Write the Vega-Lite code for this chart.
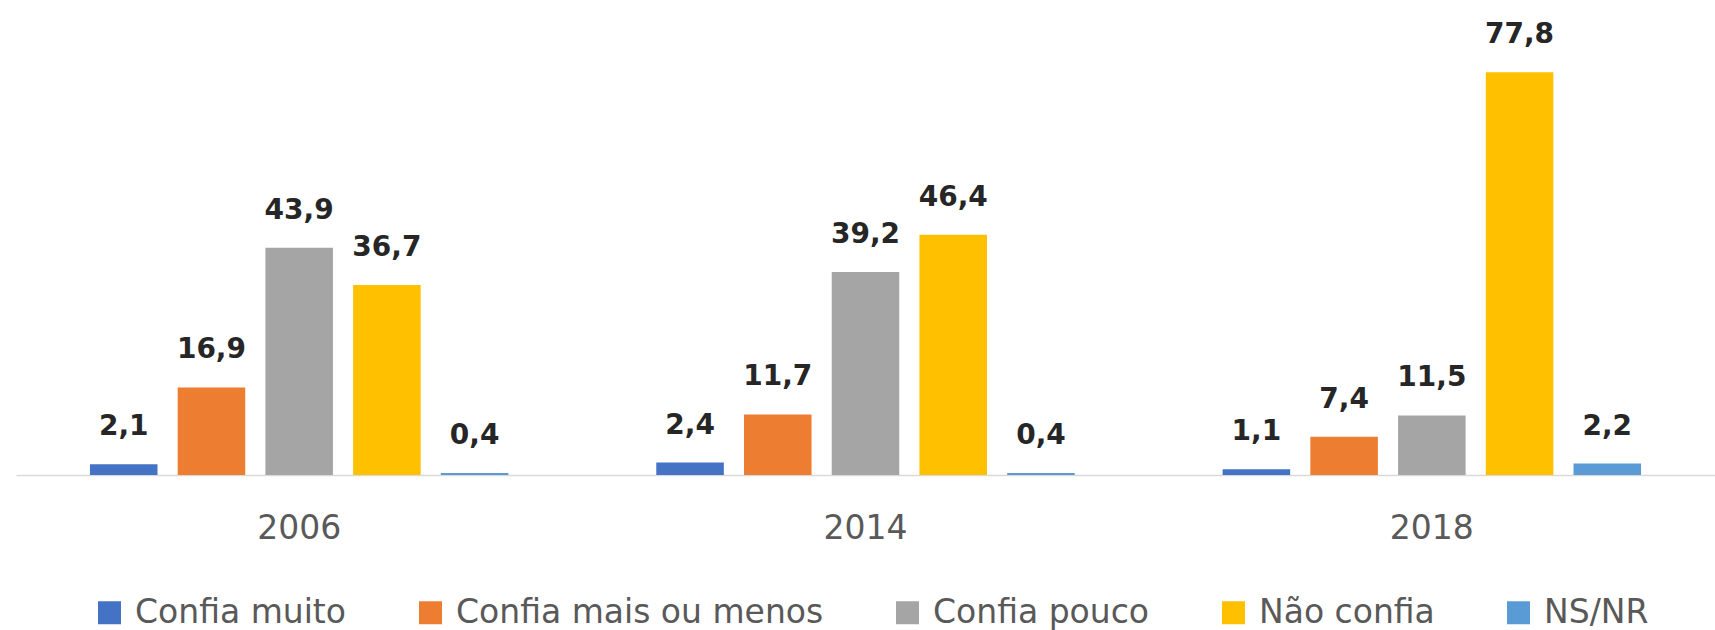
{
  "$schema": "https://vega.github.io/schema/vega-lite/v6.json",
  "width": 1699,
  "height": 466,
  "padding": {"left": 16, "top": 9, "right": 0, "bottom": 0},
  "config": {"view": {"stroke": null}, "font": "DejaVu Sans"},
  "data": {
    "values": [
      {"ano": "2006", "cat": "Confia muito", "v": 2.1, "rotulo": "2,1"},
      {"ano": "2006", "cat": "Confia mais ou menos", "v": 16.9, "rotulo": "16,9"},
      {"ano": "2006", "cat": "Confia pouco", "v": 43.9, "rotulo": "43,9"},
      {"ano": "2006", "cat": "Não confia", "v": 36.7, "rotulo": "36,7"},
      {"ano": "2006", "cat": "NS/NR", "v": 0.4, "rotulo": "0,4"},
      {"ano": "2014", "cat": "Confia muito", "v": 2.4, "rotulo": "2,4"},
      {"ano": "2014", "cat": "Confia mais ou menos", "v": 11.7, "rotulo": "11,7"},
      {"ano": "2014", "cat": "Confia pouco", "v": 39.2, "rotulo": "39,2"},
      {"ano": "2014", "cat": "Não confia", "v": 46.4, "rotulo": "46,4"},
      {"ano": "2014", "cat": "NS/NR", "v": 0.4, "rotulo": "0,4"},
      {"ano": "2018", "cat": "Confia muito", "v": 1.1, "rotulo": "1,1"},
      {"ano": "2018", "cat": "Confia mais ou menos", "v": 7.4, "rotulo": "7,4"},
      {"ano": "2018", "cat": "Confia pouco", "v": 11.5, "rotulo": "11,5"},
      {"ano": "2018", "cat": "Não confia", "v": 77.8, "rotulo": "77,8"},
      {"ano": "2018", "cat": "NS/NR", "v": 2.2, "rotulo": "2,2"}
    ]
  },
  "encoding": {
    "x": {
      "field": "ano",
      "type": "nominal",
      "sort": ["2006", "2014", "2018"],
      "scale": {"paddingInner": 0, "paddingOuter": 0},
      "axis": {
        "title": null,
        "labelAngle": 0,
        "ticks": false,
        "tickSize": 0,
        "domainColor": "#d9d9d9",
        "domainWidth": 1.5,
        "labelFont": "DejaVu Sans",
        "labelFontSize": 33,
        "labelColor": "#595959",
        "labelBaseline": "alphabetic",
        "labelPadding": 63
      }
    },
    "xOffset": {
      "field": "cat",
      "type": "nominal",
      "sort": ["Confia muito", "Confia mais ou menos", "Confia pouco", "Não confia", "NS/NR"],
      "scale": {"paddingInner": 0.23, "paddingOuter": 0.843}
    },
    "y": {
      "field": "v",
      "type": "quantitative",
      "scale": {"domain": [0, 90]},
      "axis": null
    }
  },
  "layer": [
    {
      "mark": {"type": "bar"},
      "encoding": {
        "color": {
          "field": "cat",
          "type": "nominal",
          "scale": {
            "domain": ["Confia muito", "Confia mais ou menos", "Confia pouco", "Não confia", "NS/NR"],
            "range": ["#4472C4", "#ED7D31", "#A5A5A5", "#FFC000", "#5B9BD5"]
          },
          "legend": {
            "orient": "none",
            "legendX": 77,
            "legendY": 587,
            "direction": "horizontal",
            "columns": 5,
            "title": null,
            "symbolType": "square",
            "symbolSize": 529,
            "symbolStrokeWidth": 0,
            "labelFont": "DejaVu Sans",
            "labelFontSize": 33,
            "labelColor": "#595959",
            "labelOffset": 9,
            "labelLimit": 1000,
            "columnPadding": 67
          }
        }
      }
    },
    {
      "mark": {
        "type": "text",
        "baseline": "alphabetic",
        "dy": -29,
        "font": "DejaVu Sans",
        "fontWeight": "bold",
        "fontSize": 28,
        "color": "#262626"
      },
      "encoding": {"text": {"field": "rotulo", "type": "nominal"}}
    }
  ]
}
